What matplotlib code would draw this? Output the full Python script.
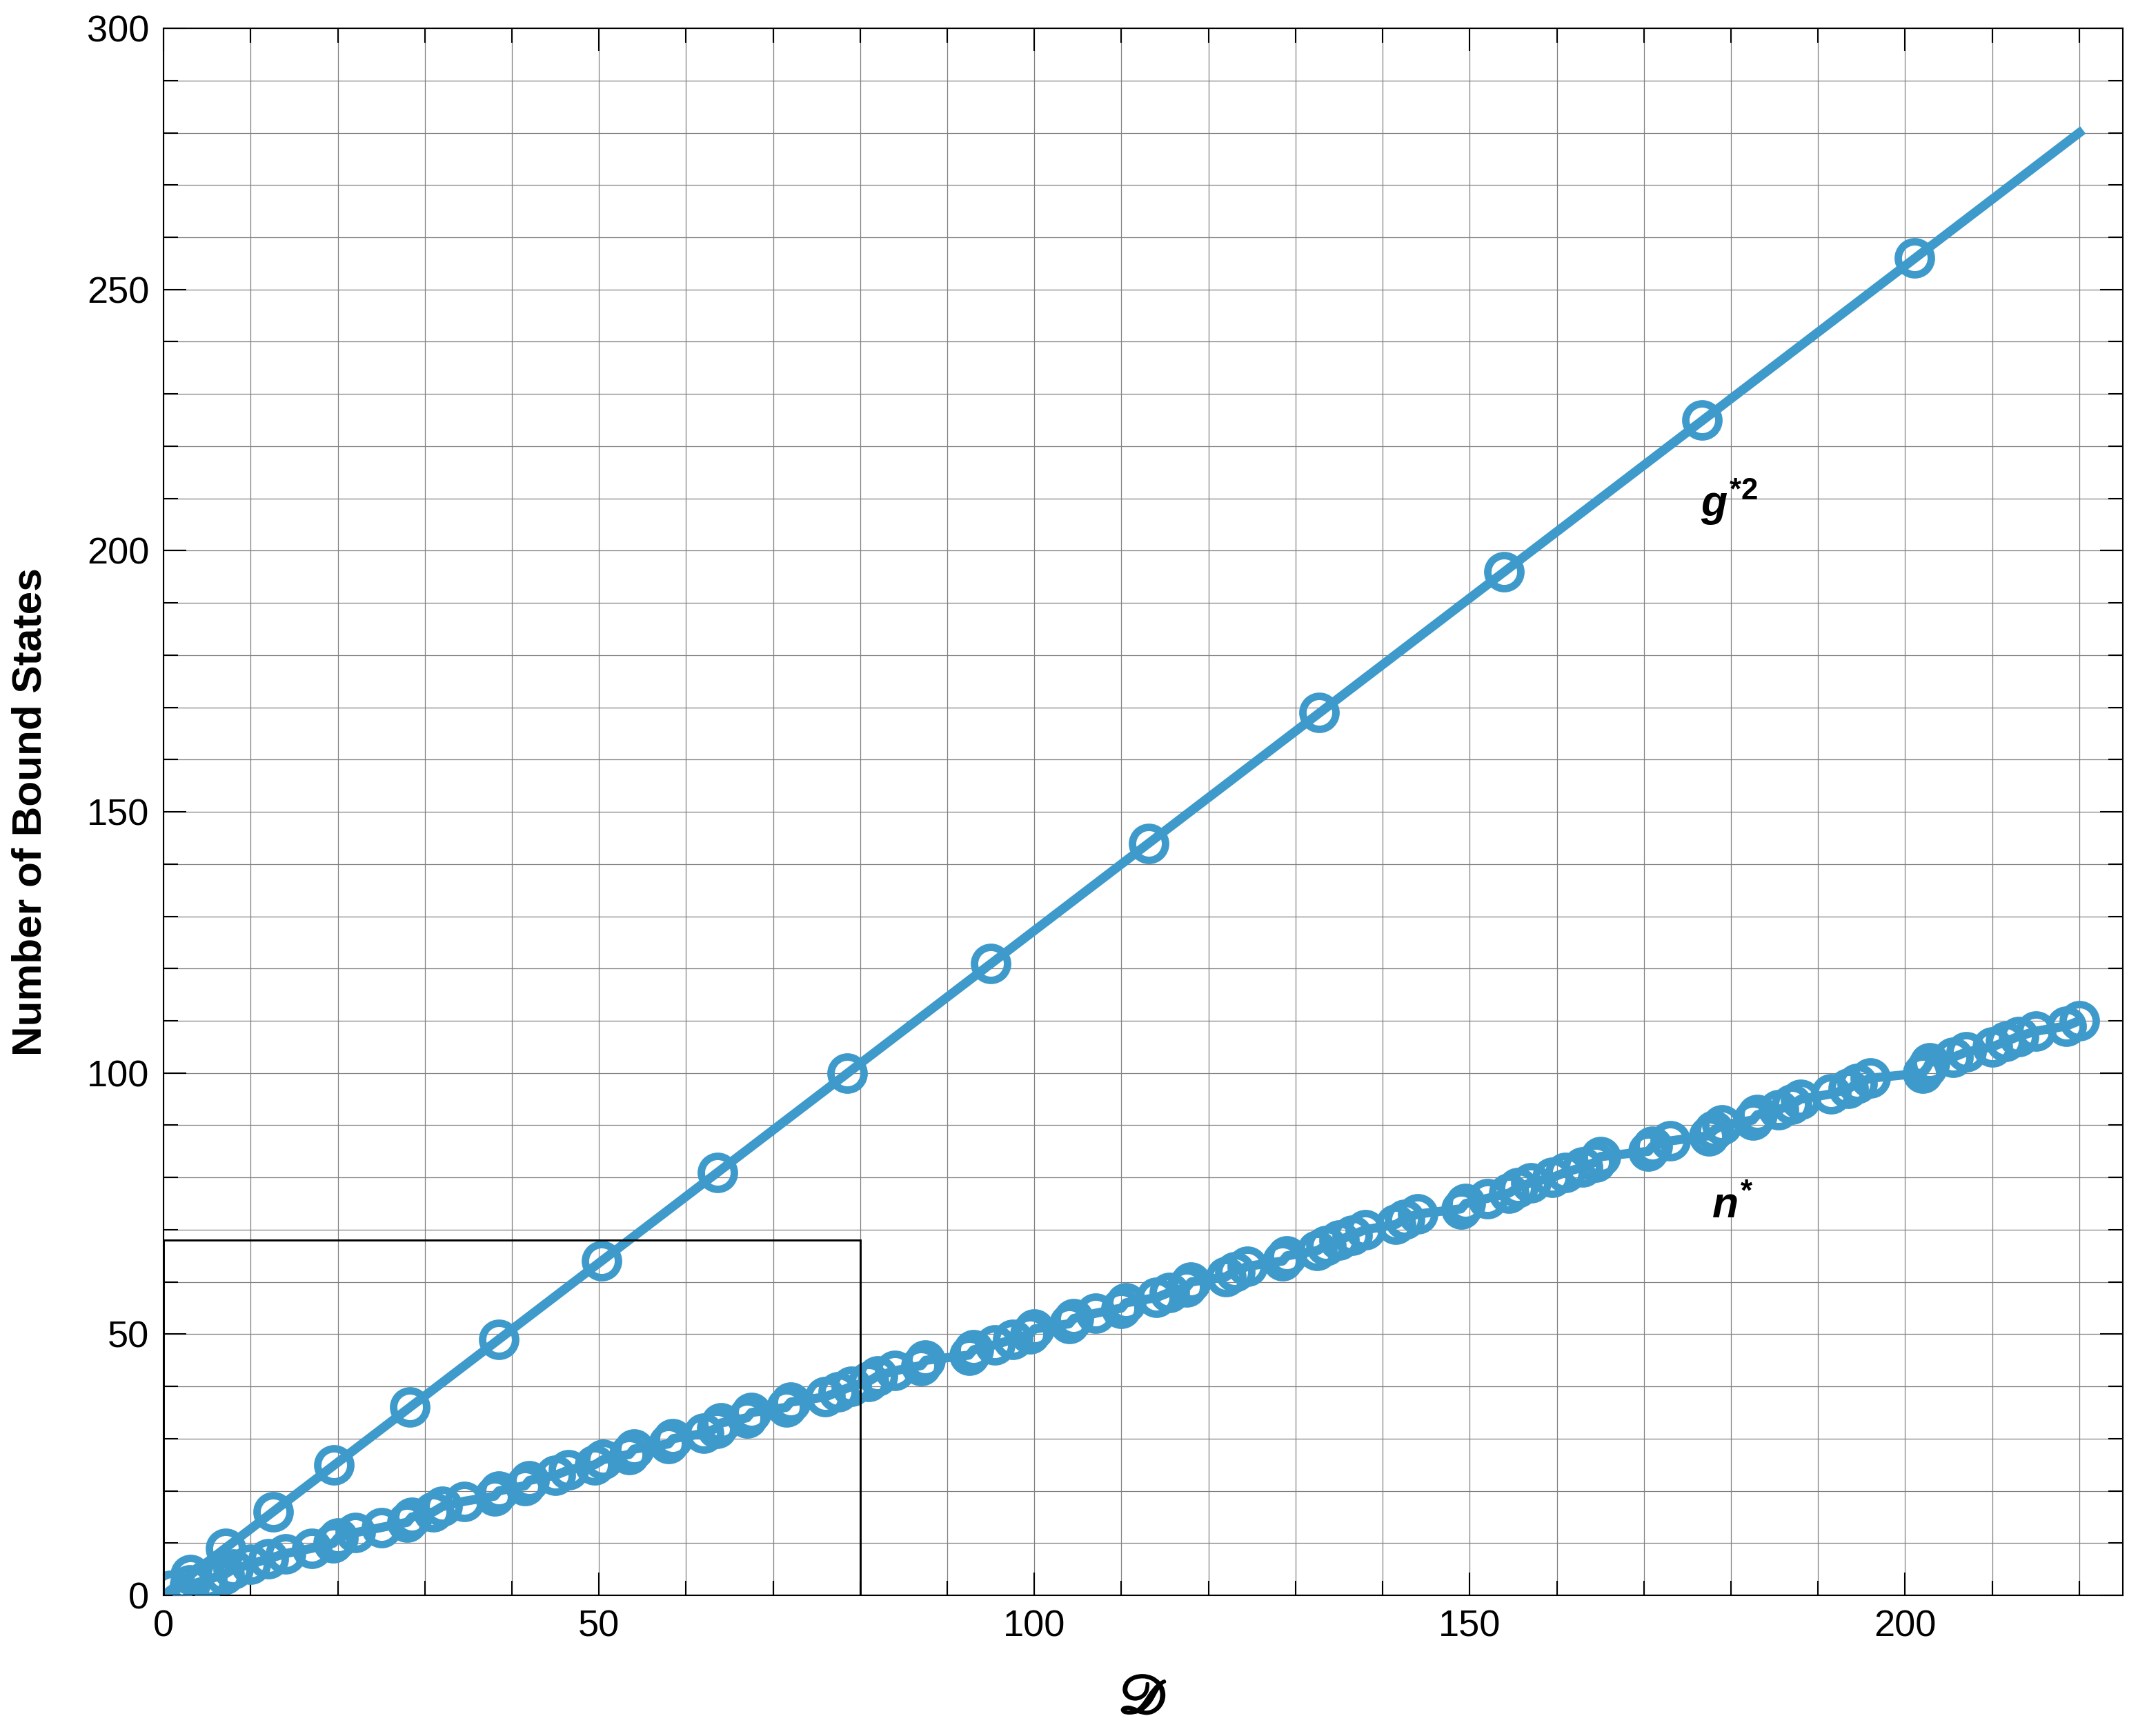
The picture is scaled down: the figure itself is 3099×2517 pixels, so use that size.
import numpy as np
import matplotlib.pyplot as plt
import matplotlib.patheffects as pe
from matplotlib.patches import Rectangle
from matplotlib.ticker import MultipleLocator

plt.rcParams['font.family'] = ['Liberation Sans', 'DejaVu Sans']
plt.rcParams['mathtext.fontset'] = 'custom'
plt.rcParams['mathtext.it'] = 'Liberation Sans:italic:bold'
plt.rcParams['mathtext.rm'] = 'Liberation Sans:bold'

# g*^2 curve: squares of g and where they sit on the D axis
g_sq = [1, 4, 9, 16, 25, 36, 49, 64, 81, 100, 121, 144, 169, 196, 225, 256]
g_D = [0.8, 3.1, 7.1, 12.6, 19.6, 28.3, 38.5, 50.3, 63.6, 78.5, 95.0, 113.1, 132.7, 153.9, 176.7, 201.1]
# straight line drawn under the circles
g_line_D = [0, 220]
g_line_y = [0, 280]

# n* points
n_D = [1, 3, 5, 7, 8, 10, 12, 14, 17, 19.5, 20, 22, 25, 28, 28.5, 31, 32, 34.5, 38, 38.5,
       41.5, 42, 45, 46.5, 49.5, 50.5, 53.5, 54, 58, 58.5, 62, 63.5, 64, 67, 67.5, 71.5, 72, 76, 77.5, 79,
       81, 82, 84, 87, 87.5, 92.5, 93, 95.5, 97.5, 99.5, 100, 104, 104.5, 107, 110, 110.5, 114, 115.5, 117.5, 118,
       122, 123, 124.5, 128.5, 129, 132.5, 133.5, 135, 136.5, 138, 141.5, 142.5, 144, 149, 149.5, 152, 154.5, 155.5, 157, 159.5,
       161, 163, 164.5, 165, 170.5, 171, 173, 177.5, 178, 179, 182.5, 183, 185.5, 187, 188, 191.5, 193.5, 194.5, 196, 202,
       202.5, 202.8, 205.5, 207, 210, 211.5, 213, 215, 218.5, 220]
n_vals = list(range(1, 111))

blue = '#3e9acb'

fig = plt.figure(figsize=(3099/300, 2517/300), dpi=300)
ax = fig.add_axes([0.0765, 0.081, 0.9164, 0.9027])

ax.plot(g_line_D, g_line_y, color=blue, lw=3.2, zorder=3)
ax.plot(g_D, g_sq, 'o', color=blue, mfc='none', mew=2.6, ms=11.5, zorder=4)
ax.plot(n_D, n_vals, 'o-', color=blue, mfc='none', mew=2.6, ms=11.5, lw=3.2, zorder=4)

ax.add_patch(Rectangle((0, 0), 80, 68, fill=False, ec='black', lw=0.7, zorder=5))

ax.text(176.5, 206.5, r'$g^{\mathrm{*2}}$', fontsize=15, ha='left', va='baseline')
ax.text(177.8, 72.4, r'$n^{\mathrm{*}}$', fontsize=15, ha='left', va='baseline')

ax.set_xlim(0, 225)
ax.set_ylim(0, 300)
ax.xaxis.set_major_locator(MultipleLocator(50))
ax.xaxis.set_minor_locator(MultipleLocator(10))
ax.yaxis.set_major_locator(MultipleLocator(50))
ax.yaxis.set_minor_locator(MultipleLocator(10))
ax.grid(True, which='both', color='#808080', lw=0.3, zorder=0)
ax.set_axisbelow(True)
ax.tick_params(which='both', direction='in', top=True, right=True, labelsize=13, pad=5, width=0.5)
ax.tick_params(which='major', length=8)
ax.tick_params(which='minor', length=5)
for s in ax.spines.values():
    s.set_linewidth(0.5)

xl = ax.set_xlabel(r'$\mathscr{D}$', fontsize=19, labelpad=10, math_fontfamily='stix')
xl.set_path_effects([pe.withStroke(linewidth=0.9, foreground='black')])
ax.set_ylabel('Number of Bound States', fontsize=14.5, fontweight='bold', labelpad=13)

plt.savefig('out.png', dpi=300)
